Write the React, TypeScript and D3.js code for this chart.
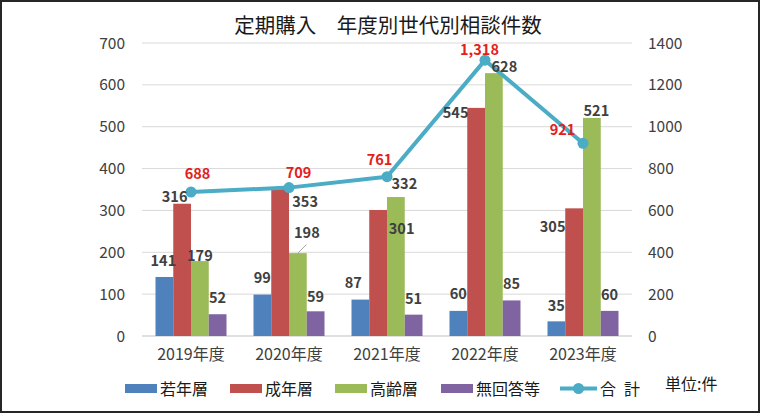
import React from "react";
import * as d3 from "d3";

const categories = ["2019年度", "2020年度", "2021年度", "2022年度", "2023年度"];
const seriesNames = ["若年層", "成年層", "高齢層", "無回答等"];
const young = [141, 99, 87, 60, 35];
const adult = [316, 353, 301, 545, 305];
const senior = [179, 198, 332, 628, 521];
const noAnswer = [52, 59, 51, 85, 60];
const totals = [688, 709, 761, 1318, 921];
const totalName = "合\u2002計";
const leftTicks = [0, 100, 200, 300, 400, 500, 600, 700];
const rightTicks = [0, 200, 400, 600, 800, 1000, 1200, 1400];
const title = "定期購入\u3000年度別世代別相談件数";
const unitLabel = "単位:件";

// styling / label placement (not data)
const colors = ["#4F81BD", "#C0504D", "#9BBB59", "#8064A2"];
const lineColor = "#4BACC6";
const labelOffsets: [number, number][][] = [
  [[-1, -16], [-7.5, -7], [0, -5], [0, -16]],
  [[0, -16.5], [25, 14], [9, -20], [0, -15]],
  [[-7, -16.5], [23.5, 19], [8.5, -13], [0, -16]],
  [[0, -17], [-20.5, 5], [10.5, -6], [0, -16.5]],
  [[0, -16], [-21.5, 18.7], [4.5, -7], [0, -16]],
];
const totalOffsets: [number, number][] = [[6.5, -18], [9.5, -14.5], [-7.5, -16.7], [-5.5, -10], [-20.5, -13]];

const FONT = "'Noto Sans CJK JP', 'Noto Sans', sans-serif";

export default function App() {
  const W = 760, H = 413;
  const left = 142, right = 632, top = 43, bottom = 336;
  const series = [young, adult, senior, noAnswer];

  const x = d3.scaleBand<string>().domain(categories).range([left, right]).paddingInner(0.2755).paddingOuter(0.1378);
  const xi = d3.scaleBand<number>().domain([0, 1, 2, 3]).range([0, x.bandwidth()]);
  const yL = d3.scaleLinear().domain([0, 700]).range([bottom, top]);
  const yR = d3.scaleLinear().domain([0, 1400]).range([bottom, top]);

  const cx = (c: string) => (x(c) as number) + x.bandwidth() / 2;
  const line = d3.line<number>().x((_, i) => cx(categories[i])).y((d) => yR(d));

  const textColor = "#404040";

  const g2020 = (x("2020年度") as number) + (xi(2) as number) + xi.bandwidth() / 2;

  const legendItems = [
    { x: 125, label: seriesNames[0], color: colors[0] },
    { x: 230, label: seriesNames[1], color: colors[1] },
    { x: 335, label: seriesNames[2], color: colors[2] },
    { x: 441, label: seriesNames[3], color: colors[3] },
  ];

  return (
    <svg width={W} height={H} style={{ position: "absolute", left: 0, top: 0, display: "block", background: "#fff" }} fontFamily={FONT}>
      <rect x={0} y={0} width={W} height={H} fill="#fff" />
      <text x={388} y={33} textAnchor="middle" fontSize={20.5} fill="#1a1a1a">{title}</text>

      {leftTicks.map((t) => (
        <line key={t} x1={left} x2={right} y1={yL(t)} y2={yL(t)} stroke={t === 0 ? "#BFBFBF" : "#D9D9D9"} strokeWidth={1} />
      ))}
      {leftTicks.map((t) => (
        <text key={"l" + t} x={125} y={yL(t)} dy="0.36em" textAnchor="end" fontSize={15.5} fill={textColor}>{t}</text>
      ))}
      {rightTicks.map((t) => (
        <text key={"r" + t} x={648} y={yR(t)} dy="0.36em" textAnchor="start" fontSize={15.5} fill={textColor}>{t}</text>
      ))}

      {categories.map((c, ci) => (
        <g key={c}>
          {series.map((s, si) => (
            <rect key={si} x={(x(c) as number) + (xi(si) as number)} y={yL(s[ci])} width={xi.bandwidth()} height={bottom - yL(s[ci])} fill={colors[si]} />
          ))}
        </g>
      ))}

      {categories.map((c) => (
        <text key={"c" + c} x={cx(c)} y={354} dy="0.36em" textAnchor="middle" fontSize={16} fill={textColor}>{c}</text>
      ))}

      <path d={line(totals) || ""} fill="none" stroke={lineColor} strokeWidth={4} strokeLinejoin="round" />
      {totals.map((v, i) => (
        <circle key={i} cx={cx(categories[i])} cy={yR(v)} r={5.5} fill={lineColor} />
      ))}

      <line x1={g2020} y1={yL(198)} x2={g2020 + 8.5} y2={yL(198) - 8.5} stroke="#A6A6A6" strokeWidth={1} />

      {categories.map((c, ci) =>
        series.map((s, si) => {
          const bx = (x(c) as number) + (xi(si) as number) + xi.bandwidth() / 2;
          const [dx, dy] = labelOffsets[ci][si];
          return (
            <text key={c + si} x={bx + dx} y={yL(s[ci]) + dy} dy="0.36em" textAnchor="middle" fontSize={14.5} fontWeight="bold" fill={textColor}>
              {d3.format(",")(s[ci])}
            </text>
          );
        })
      )}
      {totals.map((v, i) => {
        const [dx, dy] = totalOffsets[i];
        return (
          <text key={"t" + i} x={cx(categories[i]) + dx} y={yR(v) + dy} dy="0.36em" textAnchor="middle" fontSize={14.5} fontWeight="bold" fill="#E3211C">
            {d3.format(",")(v)}
          </text>
        );
      })}

      {legendItems.map((it) => (
        <g key={it.label}>
          <rect x={it.x} y={384} width={32} height={9} fill={it.color} />
          <text x={it.x + 35} y={389} dy="0.36em" fontSize={16} fill="#1a1a1a">{it.label}</text>
        </g>
      ))}
      <line x1={560} x2={597} y1={388.5} y2={388.5} stroke={lineColor} strokeWidth={4} />
      <circle cx={578.5} cy={388.5} r={5.5} fill={lineColor} />
      <text x={600} y={389} dy="0.36em" fontSize={16} fill="#1a1a1a">{totalName}</text>
      <text x={665} y={384} dy="0.36em" fontSize={16} fill="#1a1a1a">{unitLabel}</text>

      <rect x={1} y={1} width={W - 2} height={H - 2} fill="none" stroke="#262626" strokeWidth={2} />
    </svg>
  );
}
